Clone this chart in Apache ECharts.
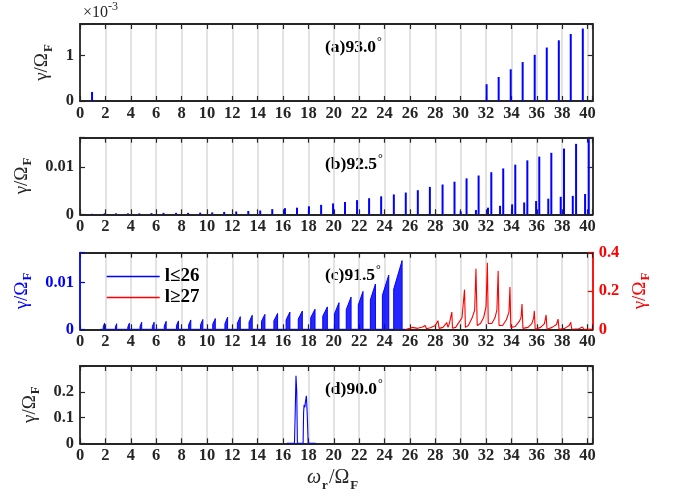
<!DOCTYPE html>
<html><head><meta charset="utf-8">
<script src="https://cdn.jsdelivr.net/npm/echarts@6/dist/echarts.min.js"></script>
<style>html,body{margin:0;padding:0;background:#fff}#c{width:673px;height:502px}</style>
</head><body><div id="c"></div>
<script>
// ---------- data ----------
const xTickLabels = [0,2,4,6,8,10,12,14,16,18,20,22,24,26,28,30,32,34,36,38,40];

// (a) 93.0 deg : spikes
const aX = [0.95, 32.04, 32.99, 33.94, 34.88, 35.83, 36.78, 37.73, 38.67, 39.62];
const aY = [0.00020, 0.00037, 0.00053, 0.00070, 0.00086, 0.00102, 0.00118, 0.00134, 0.00148, 0.00160];

// (b) 92.5 deg : main spikes and secondary spikes
const bMainX = [0.95,1.94,2.84,3.78,4.68,5.63,6.58,7.57,8.52,9.47,10.42,11.36,12.31,13.26,14.2,15.15,16.15,17.1,18.04,19.0,19.94,
  20.88,21.83,22.78,23.73,24.73,25.67,26.62,27.57,28.57,29.51,30.46,31.41,32.41,33.35,34.3,35.25,36.19,37.14,38.14,39.09,40.09];
const bMainY = [0.0001,0.0002,0.0002,0.0002,0.0002,0.00025,0.0003,0.0003,0.0003,0.00035,0.0004,0.0005,0.0006,0.0007,0.0008,0.0011,0.0013,0.0014,0.0017,0.0020,0.0023,
  0.0026,0.0030,0.0034,0.0038,0.0042,0.0046,0.0051,0.0058,0.0063,0.0069,0.0076,0.0082,0.0089,0.0097,0.0105,0.0114,0.0122,0.0130,0.0139,0.0149,0.0159];
const bSubX = [30.0, 31.2, 32.15, 33.1, 34.05, 35.0, 35.94, 36.9, 37.88, 38.83, 39.8];
const bSubY = [0.0006, 0.0009, 0.0014, 0.0018, 0.0021, 0.0025, 0.0028, 0.0033, 0.0037, 0.0039, 0.0043];

// (c) 91.5 deg : l<=26 clusters (start of cluster, peak of cluster)
const cBluePeakX = [1.93,2.89,3.89,4.86,5.84,6.79,7.76,8.73,9.68,10.66,11.63,12.63,13.57,14.57,15.57,16.54,17.52,18.52,19.49,20.41,21.36,22.3,23.28,24.33,25.38];
const cBluePeakY = [0.0013,0.0012,0.0013,0.0015,0.0015,0.0017,0.0018,0.0020,0.0021,0.0023,0.0026,0.0027,0.0030,0.0032,0.0034,0.0037,0.0039,0.0043,0.0048,0.0057,0.0069,0.0081,0.0097,0.0116,0.0147];
const cBlueStartX = [1.83,2.79,3.77,4.73,5.7,6.64,7.6,8.56,9.5,10.46,11.42,12.4,13.32,14.3,15.28,16.24,17.2,18.18,19.13,20.05,20.98,21.93,22.88,23.83,24.72];
const cBlueStartY = [0.0005,0.0005,0.0005,0.0006,0.0006,0.0007,0.0008,0.0009,0.0010,0.0011,0.0012,0.0013,0.0015,0.0017,0.0018,0.0020,0.0022,0.0025,0.0028,0.0033,0.0042,0.0052,0.0063,0.0073,0.0086];

// (c) 91.5 deg : l>=27 (right axis)
const cRedX = [25.7,26.0,26.2,26.3,26.6,27.0,27.2,27.3,27.6,28.0,28.2,28.3,28.6,28.9,29.0,29.1,29.3,29.35,29.6,29.9,30.1,30.3,30.37,
  30.6,30.9,31.1,31.2,31.3,31.55,31.8,32.0,32.1,32.17,32.45,32.7,32.85,32.95,33.02,33.3,33.6,33.8,33.88,33.95,34.3,34.6,34.75,34.83,34.9,
  35.3,35.6,35.75,35.8,35.87,36.3,36.6,36.73,36.8,37.2,37.55,37.67,37.75,38.2,38.55,38.67,38.75,39.3,39.6,39.7,40.33];
const cRedY = [0,0.005,0.01,0.002,0.005,0.012,0.02,0.003,0.008,0.02,0.045,0.005,0.01,0.035,0.01,0.03,0.09,0.005,0.01,0.04,0.06,0.207,0.01,
  0.02,0.06,0.10,0.316,0.02,0.03,0.06,0.12,0.347,0.03,0.03,0.06,0.10,0.305,0.02,0.02,0.05,0.09,0.221,0.01,0.015,0.04,0.06,0.132,0.005,
  0.01,0.03,0.06,0.096,0,0.01,0.03,0.075,0,0.01,0.025,0.053,0,0.005,0.02,0.037,0,0.003,0.012,0,0];

// (d) 90.0 deg
const dX = [16.3,16.9,16.95,17.02,17.08,17.13,17.58,17.62,17.66,17.72,17.76,17.84,17.9,17.98,18.57];
const dY = [0,0,0.10,0.262,0.20,0,0,0.12,0.149,0.14,0.16,0.184,0.12,0,0];

// ---------- helpers ----------
const FONT = '"Liberation Serif","Times New Roman",serif';
const DARK = '#262626';
const BLUE = '#0000ff', RED = '#ff0000';
const TICKFS = 16.5;
const grids = [
  {left:80, width:512.7, top:24, height:77},
  {left:80, width:512.7, top:137.7, height:76.6},
  {left:80, width:512.7, top:252.7, height:76.6},
  {left:80, width:512.7, top:366, height:77.3}
];
const pairs = (xs, ys) => xs.map((x, i) => [x, ys[i]]);
function clusterData(sx, sy, px, py) {
  const out = [];
  for (let i = 0; i < px.length; i++) {
    out.push([sx[i], 0], [sx[i], sy[i]], [px[i], py[i]], [px[i], 0]);
  }
  return out;
}
function isMult(v, step) { const r = v / step; return Math.abs(r - Math.round(r)) < 1e-6; }

const xAxes = [], yAxes = [];
grids.forEach((g, i) => {
  const common = {gridIndex:i, type:'value', min:0, max:40.4, interval:2,
    axisLine:{show:true, onZero:false, lineStyle:{color:DARK, width:1.8}},
    axisTick:{show:true, inside:true, length:5, lineStyle:{color:DARK, width:1.2}}};
  xAxes.push(Object.assign({}, common, {position:'bottom',
    axisLabel:{show:true, margin:4, fontFamily:FONT, fontWeight:'bold', fontSize:TICKFS, color:DARK,
      formatter: v => (isMult(v, 2) && xTickLabels.indexOf(Math.round(v)) >= 0) ? String(Math.round(v)) : ''},
    splitLine:{show:true, lineStyle:{color:'#dadada', width:1.5}}}));
  xAxes.push(Object.assign({}, common, {position:'top', axisLabel:{show:false}, splitLine:{show:false}}));
});

const yName = (color) => ({
  name:'{m|γ/Ω}{s|F}', nameLocation:'middle', nameRotate:90,
  nameTextStyle:{color:color, fontFamily:FONT, fontSize:19,
    rich:{m:{fontFamily:FONT, fontSize:19, color:color},
          s:{fontFamily:FONT, fontSize:13, fontWeight:'bold', color:color, padding:[12,0,0,1]}}}
});
function yAxis(i, max, step, fmt, color, position, showLabel, nameGap, showMax) {
  const ax = {gridIndex:i, type:'value', min:0, max:max, interval:step, position:position,
    axisLine:{show:true, onZero:false, lineStyle:{color:color, width:1.8}},
    axisTick:{show:true, inside:true, length:5, lineStyle:{color:color, width:1.2}},
    splitLine:{show:false},
    axisLabel:{show:showLabel, margin:6, fontFamily:FONT, fontWeight:'bold', fontSize:TICKFS, color:color,
      formatter: v => (isMult(v, step) && (showMax || v < max - step * 0.05 + 1e-12)) ? fmt(v) : ''}};
  if (showLabel) Object.assign(ax, yName(color), {nameGap:nameGap});
  return ax;
}
const f1000 = v => String(Math.round(v * 1000));
const fnum = v => String(+v.toFixed(3));
yAxes.push(yAxis(0, 0.0017, 0.001, f1000, DARK, 'left', true, 15));
yAxes.push(yAxis(0, 0.0017, 0.001, f1000, DARK, 'right', false));
yAxes.push(yAxis(1, 0.0162, 0.01, fnum, DARK, 'left', true, 37));
yAxes.push(yAxis(1, 0.0162, 0.01, fnum, DARK, 'right', false));
yAxes.push(yAxis(2, 0.0164, 0.01, fnum, BLUE, 'left', true, 37));
yAxes.push(yAxis(2, 0.4, 0.2, fnum, RED, 'right', true, 29, true));
yAxes.push(yAxis(3, 0.3, 0.1, fnum, DARK, 'left', true, 30));
yAxes.push(yAxis(3, 0.3, 0.1, fnum, DARK, 'right', false));

const series = [
  {type:'bar', xAxisIndex:0, yAxisIndex:0, barWidth:2, itemStyle:{color:BLUE}, data:pairs(aX, aY), silent:true},
  {type:'bar', xAxisIndex:2, yAxisIndex:2, barWidth:2, barGap:'-100%', itemStyle:{color:BLUE}, data:pairs(bMainX, bMainY), silent:true},
  {type:'bar', xAxisIndex:2, yAxisIndex:2, barWidth:2, barGap:'-100%', itemStyle:{color:BLUE}, data:pairs(bSubX, bSubY), silent:true},
  {name:'l≤26', type:'line', xAxisIndex:4, yAxisIndex:4, symbol:'none', lineStyle:{color:BLUE, width:1},
    itemStyle:{color:BLUE}, areaStyle:{color:BLUE, opacity:0.85},
    data:[[1.6,0]].concat(clusterData(cBlueStartX, cBlueStartY, cBluePeakX, cBluePeakY)).concat([[25.6,0]]), silent:true},
  {name:'l≥27', type:'line', xAxisIndex:4, yAxisIndex:5, symbol:'none', lineStyle:{color:RED, width:1.1},
    itemStyle:{color:RED}, data:pairs(cRedX, cRedY), silent:true},
  {type:'line', xAxisIndex:6, yAxisIndex:6, symbol:'none', lineStyle:{color:BLUE, width:1.1},
    data:pairs(dX, dY), silent:true}
];

const titleStyle = (txt, y) => ({type:'text', left:325, top:y,
  style:{text:'{t|' + txt + '}{d|°}', font:'bold 17px ' + FONT, fill:'#000',
    rich:{t:{fontFamily:FONT, fontWeight:'bold', fontSize:17.5, fill:'#000'},
          d:{fontFamily:FONT, fontSize:12, fill:'#000', padding:[0,0,11,1]}}}});

const option = {
  animation:false,
  backgroundColor:'#fff',
  grid:grids,
  xAxis:xAxes,
  yAxis:yAxes,
  series:series,
  legend:{data:[{name:'l≤26', lineStyle:{color:BLUE}}, {name:'l≥27', lineStyle:{color:RED}}],
    orient:'vertical', left:101, top:262,
    itemWidth:53, itemHeight:14, itemGap:2,
    itemStyle:{opacity:0}, lineStyle:{width:1.4},
    textStyle:{fontFamily:FONT, fontWeight:'bold', fontSize:19, color:'#000'}},
  graphic:[
    titleStyle('(a)93.0', 36),
    titleStyle('(b)92.5', 153),
    titleStyle('(c)91.5', 264),
    titleStyle('(d)90.0', 378),
    {type:'text', left:83, top:1, style:{text:'{m|×10}{s|-3}', font:'16px ' + FONT, fill:DARK,
      rich:{m:{fontFamily:FONT, fontSize:16, fill:DARK}, s:{fontFamily:FONT, fontSize:12, fill:DARK, padding:[0,0,11,0]}}}},
    {type:'text', left:307, top:468, style:{text:'{w|ω}{r|r}{m|/Ω}{f|F}', font:'19px ' + FONT, fill:DARK,
      rich:{w:{fontFamily:FONT, fontStyle:'italic', fontSize:20, fill:DARK},
            r:{fontFamily:FONT, fontWeight:'bold', fontSize:13, fill:DARK, padding:[15,1,0,1]},
            m:{fontFamily:FONT, fontSize:20, fill:DARK},
            f:{fontFamily:FONT, fontWeight:'bold', fontSize:13, fill:DARK, padding:[15,0,0,1]}}}}
  ]
};
const chart = echarts.init(document.getElementById('c'), null, {renderer:'canvas'});
chart.setOption(option);
</script>
</body></html>
